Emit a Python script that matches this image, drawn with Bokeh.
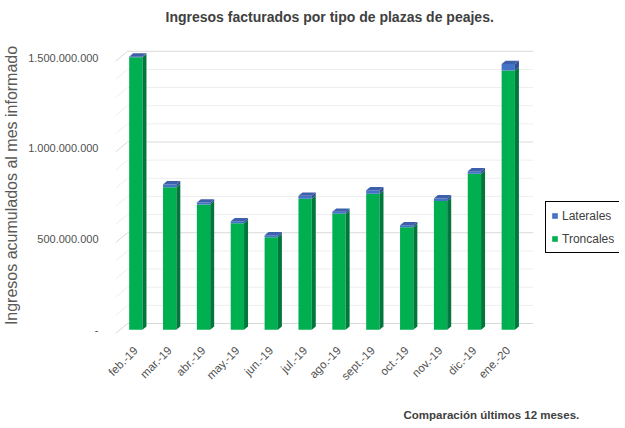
import math
from bokeh.plotting import figure
from bokeh.models import Range1d, FixedTicker, Legend, LegendItem, Title, ColumnDataSource
from bokeh.embed import file_html
from bokeh.resources import INLINE

# ---------------- data ----------------
categories = ["feb.-19", "mar.-19", "abr.-19", "may.-19", "jun.-19", "jul.-19",
              "ago.-19", "sept.-19", "oct.-19", "nov.-19", "dic.-19", "ene.-20"]
troncales = [1_502_000_000, 786_000_000, 690_000_000, 587_000_000, 510_000_000, 722_000_000,
             639_000_000, 749_000_000, 565_000_000, 709_000_000, 860_000_000, 1_429_000_000]
laterales = [3_000_000, 15_000_000, 11_000_000, 11_000_000, 11_000_000, 16_000_000,
             11_000_000, 20_000_000, 11_000_000, 15_000_000, 13_000_000, 35_000_000]
y_ticks = [0, 500_000_000, 1_000_000_000, 1_500_000_000]
minor_step = 100_000_000

title_text = "Ingresos facturados por tipo de plazas de peajes."
y_title = "Ingresos acumulados al mes informado"
foot_text = "Comparación últimos 12 meses."

# ---------------- geometry (style) ----------------
ML, MT, MB = 105, 35, 0
FW, FH = 504, 300
PX_X = 33.86                    # px per category unit
PX_V = 1.815e-7                 # px per value unit
x0 = -0.6
x1 = x0 + FW / PX_X
v0 = -31_400_000
v1 = v0 + FH / PX_V

def ux(px):
    return px / PX_X

def uv(px):
    return px / PX_V

bar_w = ux(13.3)
bar_dx, bar_dy = ux(4.0), uv(3.3)
back_dy = uv(6.3)
front_dy = uv(-3.7)
wall_left_front = x0
wall_left_back = x0 + ux(12)
wall_right = x0 + ux(417.7)

GREEN, GREEN_SIDE = "#00b050", "#00773b"
BLUE, BLUE_SIDE, BLUE_TOP = "#4472c4", "#2f4f91", "#3e5fa9"
TXT = "#595959"
FONT = "Liberation Sans"

p = figure(frame_width=FW, frame_height=FH, output_backend="svg", toolbar_location=None,
           x_range=Range1d(x0, x1), y_range=Range1d(v0, v1),
           min_border_left=ML, min_border_right=0, min_border_top=MT, min_border_bottom=MB)
p.outline_line_color = None
p.xgrid.visible = False
p.ygrid.visible = False
p.background_fill_color = "white"
p.border_fill_color = "white"

has_standoff = "standoff" in Title.properties()

p.title.text = title_text
p.title.align = "left"
p.title.offset = 50
p.title.vertical_align = "top"
p.title.text_font = FONT
p.title.text_font_size = "14px"
p.title.text_font_style = "bold"
p.title.text_color = "#404040"
if has_standoff:
    p.title.standoff = 17

# ---------------- walls / gridlines ----------------
grid_vals = list(range(0, y_ticks[-1] + 1, minor_step))
for g in grid_vals:
    col = "#d9d9d9" if g in y_ticks else "#eeeeee"
    p.segment(x0=[wall_left_back], y0=[g + back_dy], x1=[wall_right], y1=[g + back_dy],
              line_color=col, line_width=1)
    p.segment(x0=[wall_left_front], y0=[g + front_dy], x1=[wall_left_back], y1=[g + back_dy],
              line_color=col, line_width=1)

# ---------------- bars ----------------
xs = list(range(len(categories)))
tops = [t + l for t, l in zip(troncales, laterales)]
src = ColumnDataSource(dict(x=xs, tron=troncales, top=tops, zero=[0] * len(xs)))

r_tron = p.vbar(x="x", width=bar_w, bottom="zero", top="tron", source=src,
                fill_color=GREEN, line_color=None)
r_lat = p.vbar(x="x", width=bar_w, bottom="tron", top="top", source=src,
               fill_color=BLUE, line_color=None)

def side(bottoms, tps):
    sx, sy = [], []
    for i, b, t in zip(xs, bottoms, tps):
        xr = i + bar_w / 2
        sx.append([xr, xr + bar_dx, xr + bar_dx, xr])
        sy.append([b, b + bar_dy, t + bar_dy, t])
    return sx, sy

sx, sy = side([0] * len(xs), troncales)
p.patches(xs=sx, ys=sy, fill_color=GREEN_SIDE, line_color=None)
sx, sy = side(troncales, tops)
p.patches(xs=sx, ys=sy, fill_color=BLUE_SIDE, line_color=None)
tx, ty = [], []
for i, t in zip(xs, tops):
    xl, xr = i - bar_w / 2, i + bar_w / 2
    tx.append([xl, xr, xr + bar_dx, xl + bar_dx])
    ty.append([t, t, t + bar_dy, t + bar_dy])
p.patches(xs=tx, ys=ty, fill_color=BLUE_TOP, line_color=None)

# ---------------- axes ----------------
def fmt(v):
    return "-" if v == 0 else f"{v:,}".replace(",", ".")

p.yaxis.ticker = FixedTicker(ticks=y_ticks)
p.yaxis.major_label_overrides = {v: fmt(v) for v in y_ticks}
p.yaxis.axis_line_color = None
p.yaxis.major_tick_line_color = None
p.yaxis.minor_tick_line_color = None
p.yaxis.major_label_standoff = 11
p.yaxis.major_label_text_font = FONT
p.yaxis.major_label_text_font_size = "11px"
p.yaxis.major_label_text_color = "#505050"
p.yaxis.axis_label = y_title
p.yaxis.axis_label_text_font = FONT
p.yaxis.axis_label_text_font_size = "16px"
p.yaxis.axis_label_text_font_style = "normal"
p.yaxis.axis_label_text_color = TXT
p.yaxis.axis_label_standoff = 5

p.xaxis.ticker = FixedTicker(ticks=xs)
p.xaxis.major_label_overrides = {i: c for i, c in zip(xs, categories)}
p.xaxis.major_label_orientation = math.pi / 4
p.xaxis.axis_line_color = None
p.xaxis.major_tick_line_color = None
p.xaxis.minor_tick_line_color = None
p.xaxis.major_label_standoff = 7
p.xaxis.major_label_text_font = FONT
p.xaxis.major_label_text_font_size = "11.5px"
p.xaxis.major_label_text_color = "#505050"

# ---------------- legend ----------------
legend = Legend(items=[LegendItem(label="Laterales", renderers=[r_lat]),
                       LegendItem(label="Troncales", renderers=[r_tron])],
                location=(430, 82), orientation="vertical",
                border_line_color="black", border_line_width=1, border_line_alpha=1,
                background_fill_color="white", background_fill_alpha=1,
                padding=5, spacing=6, margin=0,
                glyph_width=7, glyph_height=7, label_height=17, label_standoff=4,
                label_text_font=FONT, label_text_font_size="12px", label_text_color="#404040")
p.add_layout(legend)

# ---------------- footer ----------------
foot = Title(text=foot_text, align="left", offset=288, text_font=FONT,
             text_font_size="11.5px", text_font_style="bold", text_color="#404040")
if has_standoff:
    foot.standoff = 34
p.add_layout(foot, "below")

open("out.html", "w").write(file_html(p, INLINE))
